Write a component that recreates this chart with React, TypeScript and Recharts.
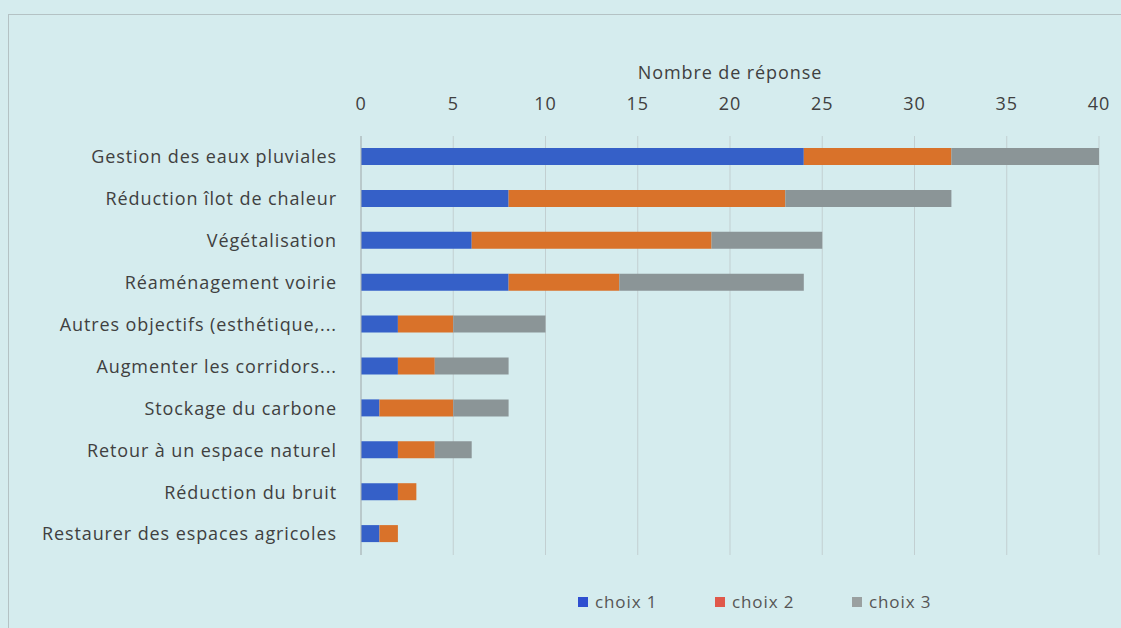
import React from 'react';
import { BarChart, Bar, XAxis, YAxis, CartesianGrid, Legend } from 'recharts';

const categories = [
  'Gestion des eaux pluviales',
  'Réduction îlot de chaleur',
  'Végétalisation',
  'Réaménagement voirie',
  'Autres objectifs (esthétique,...',
  'Augmenter les corridors...',
  'Stockage du carbone',
  'Retour à un espace naturel',
  'Réduction du bruit',
  'Restaurer des espaces agricoles',
];
const choix1 = [24, 8, 6, 8, 2, 2, 1, 2, 2, 1];
const choix2 = [8, 15, 13, 6, 3, 2, 4, 2, 1, 1];
const choix3 = [8, 9, 6, 10, 5, 4, 3, 2, 0, 0];
const xTicks = [0, 5, 10, 15, 20, 25, 30, 35, 40];
const seriesNames = ['choix 1', 'choix 2', 'choix 3'];
const barColors = ['#3560c8', '#d9722a', '#8b9597'];
const legendColors = ['#2f4fd0', '#e0584a', '#9aa0a0'];

const data = categories.map((c, i) => ({ name: c, c1: choix1[i], c2: choix2[i], c3: choix3[i] }));

const FONT = '"Open Sans", sans-serif';
const TEXT = '#404040';
const LS = 0.9;

const renderLegend = () => (
  <div style={{ display: 'flex', justifyContent: 'flex-start', fontFamily: FONT, fontSize: 17, letterSpacing: LS, color: '#555', paddingLeft: 570 }}>
    {seriesNames.map((n, i) => (
      <div key={n} style={{ display: 'flex', alignItems: 'center', width: 137 }}>
        <span style={{ display: 'inline-block', width: 10, height: 10, background: legendColors[i], marginRight: 7 }} />
        <span>{n}</span>
      </div>
    ))}
  </div>
);

export default function App() {
  return (
    <div style={{ position: 'absolute', left: 0, top: 0, width: 1121, height: 628, background: '#d5ecee', overflow: 'hidden' }}>
      <div style={{ position: 'absolute', left: 8, top: 14, width: 1130, height: 640, border: '1px solid #b4c2c4', boxSizing: 'border-box' }} />
      <div style={{ position: 'absolute', left: 0, top: 0 }}>
        <BarChart
          width={1121}
          height={628}
          data={data}
          layout="vertical"
          margin={{ top: 60, right: 22, bottom: 50, left: 8 }}
          barCategoryGap={12}
        >
          <CartesianGrid horizontal={false} vertical={true} stroke="#c2cfd1" strokeWidth={1} />
          <XAxis
            type="number"
            orientation="top"
            domain={[0, 40]}
            ticks={xTicks}
            height={76}
            axisLine={false}
            tickLine={false}
            tickMargin={20}
            tick={{ fill: TEXT, fontSize: 18, fontFamily: FONT, letterSpacing: LS }}
            label={{ value: 'Nombre de réponse', position: 'insideTop', offset: 6, fill: TEXT, fontSize: 18, fontFamily: FONT, letterSpacing: LS }}
          />
          <YAxis
            type="category"
            dataKey="name"
            width={353}
            axisLine={{ stroke: '#a8b4b6' }}
            tickLine={false}
            tickMargin={18}
            interval={0}
            tick={{ fill: TEXT, fontSize: 18, fontFamily: FONT, letterSpacing: LS }}
          />
          <Legend verticalAlign="bottom" content={renderLegend} wrapperStyle={{ bottom: 15 }} />
          <Bar dataKey="c1" name={seriesNames[0]} stackId="a" fill={barColors[0]} barSize={17} isAnimationActive={false} />
          <Bar dataKey="c2" name={seriesNames[1]} stackId="a" fill={barColors[1]} barSize={17} isAnimationActive={false} />
          <Bar dataKey="c3" name={seriesNames[2]} stackId="a" fill={barColors[2]} barSize={17} isAnimationActive={false} />
        </BarChart>
      </div>
    </div>
  );
}
